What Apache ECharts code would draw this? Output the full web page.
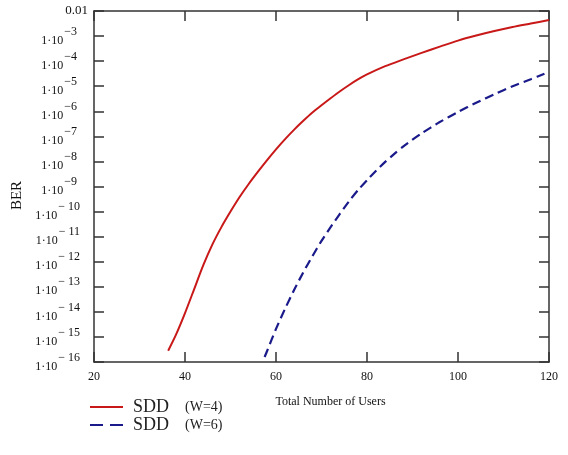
<!DOCTYPE html>
<html>
<head>
<meta charset="utf-8">
<title>BER vs users</title>
<script src="https://cdn.jsdelivr.net/npm/echarts@6/dist/echarts.min.js"></script>
<style>
html, body { margin: 0; padding: 0; background: #fff; }
#chart { width: 568px; height: 455px; }
</style>
</head>
<body>
<div id="chart"></div>
<script>
// values, BER stored as log10 exponent
var usersW4 = [36.3, 38, 40, 42, 44, 46, 48, 50, 52, 54, 56, 58, 60, 62, 64, 66, 68, 70, 72, 74, 76, 78, 80, 84, 88, 92, 96, 100, 104, 108, 112, 116, 120];
var berExpW4 = [-15.55, -14.92, -14.05, -13.1, -12.15, -11.32, -10.62, -10.0, -9.42, -8.9, -8.42, -7.96, -7.52, -7.11, -6.73, -6.38, -6.05, -5.76, -5.48, -5.21, -4.96, -4.73, -4.53, -4.2, -3.93, -3.67, -3.42, -3.18, -2.98, -2.8, -2.64, -2.5, -2.36];

var usersW6 = [57.5, 58, 60, 62, 64, 66, 68, 70, 72, 74, 76, 78, 80, 82, 84, 86, 88, 90, 92, 96, 100, 104, 108, 112, 116, 119];
var berExpW6 = [-15.8, -15.58, -14.68, -13.87, -13.12, -12.42, -11.78, -11.17, -10.62, -10.1, -9.6, -9.15, -8.75, -8.37, -8.02, -7.7, -7.4, -7.13, -6.88, -6.43, -6.03, -5.66, -5.32, -5.0, -4.72, -4.5];

var xTicks = [20, 40, 60, 80, 100, 120];
var seriesNames = ['SDD (W=4)', 'SDD (W=6)'];

function pairs(xs, ys) {
    var out = [];
    for (var i = 0; i < xs.length; i++) out.push([xs[i], ys[i]]);
    return out;
}

var serif = '"Liberation Serif", "DejaVu Serif", serif';
var frame = '#333';

var myChart = echarts.init(document.getElementById('chart'));
var option = {
    backgroundColor: '#fff',
    animation: false,
    grid: { left: 94, right: 19, top: 11, bottom: 93 },
    legend: {
        orient: 'vertical',
        left: 84,
        top: 393,
        itemWidth: 33,
        itemHeight: 10,
        itemGap: 0,
        data: [
            { name: seriesNames[0] },
            { name: seriesNames[1], lineStyle: { type: [13, 7] } }
        ],
        itemStyle: { color: 'transparent', borderWidth: 0, opacity: 0 },
        formatter: function (n) {
            var p = n.split(' ');
            return '{a|' + p[0] + '}{b|' + p[1] + '}';
        },
        textStyle: {
            rich: {
                a: { fontFamily: serif, fontSize: 18, lineHeight: 17, color: '#222', width: 52, padding: [0, 0, 0, 5] },
                b: { fontFamily: serif, fontSize: 14, lineHeight: 17, color: '#222' }
            }
        }
    },
    xAxis: [{
        type: 'value',
        min: 20, max: 120, interval: 20,
        name: 'Total Number of Users',
        nameLocation: 'middle',
        nameGap: 34,
        nameTextStyle: { fontFamily: serif, fontSize: 12, color: '#111', padding: [0, 0, 0, 18] },
        axisLine: { lineStyle: { color: frame, width: 1.5 } },
        axisTick: { inside: true, length: 10, lineStyle: { color: frame, width: 1.5 } },
        axisLabel: {
            fontFamily: serif, fontSize: 12, color: '#111', margin: 9,
            customValues: xTicks
        },
        splitLine: { show: false }
    }, {
        type: 'value',
        position: 'top',
        min: 20, max: 120, interval: 20,
        axisLine: { lineStyle: { color: frame, width: 1.5 } },
        axisTick: { inside: true, length: 10, lineStyle: { color: frame, width: 1.5 } },
        axisLabel: { show: false },
        splitLine: { show: false }
    }],
    yAxis: [{
        type: 'value',
        min: -16, max: -2, interval: 1,
        name: 'BER',
        nameLocation: 'middle',
        nameGap: 66,
        nameRotate: 90,
        nameTextStyle: { fontFamily: serif, fontSize: 15, color: '#111', padding: [0, 18, 0, 0] },
        axisLine: { lineStyle: { color: frame, width: 1.5 } },
        axisTick: { inside: true, length: 10, lineStyle: { color: frame, width: 1.5 } },
        axisLabel: {
            margin: 6,
            formatter: function (v) {
                if (v === -2) return '{z|0.01}';
                var n = String(-v);
                return '{b|1\u00b710}{' + (n.length > 1 ? 's2' : 's1') + '|\u2212' + (n.length > 1 ? ' ' : '') + n + '}';
            },
            rich: {
                z: { fontFamily: serif, fontSize: 13, color: '#111' },
                b: { fontFamily: serif, fontSize: 12, color: '#111', verticalAlign: 'bottom' },
                s1: { fontFamily: serif, fontSize: 12, color: '#111', verticalAlign: 'bottom', padding: [0, 11, 9, 1] },
                s2: { fontFamily: serif, fontSize: 12, color: '#111', verticalAlign: 'bottom', padding: [0, 8, 9, 1] }
            }
        },
        splitLine: { show: false }
    }, {
        type: 'value',
        position: 'right',
        min: -16, max: -2, interval: 1,
        axisLine: { lineStyle: { color: frame, width: 1.5 } },
        axisTick: { inside: true, length: 10, lineStyle: { color: frame, width: 1.5 } },
        axisLabel: { show: false },
        splitLine: { show: false }
    }],
    series: [{
        name: seriesNames[0],
        type: 'line',
        data: pairs(usersW4, berExpW4),
        showSymbol: false,
        symbol: 'none',
        smooth: 0.25,
        lineStyle: { color: '#c81818', width: 2 },
        itemStyle: { color: '#c81818' }
    }, {
        name: seriesNames[1],
        type: 'line',
        data: pairs(usersW6, berExpW6),
        showSymbol: false,
        symbol: 'none',
        smooth: 0.25,
        lineStyle: { color: '#1a1a8a', width: 2.2, type: [9, 5] },
        itemStyle: { color: '#1a1a8a' }
    }]
};
myChart.setOption(option);
</script>
</body>
</html>
